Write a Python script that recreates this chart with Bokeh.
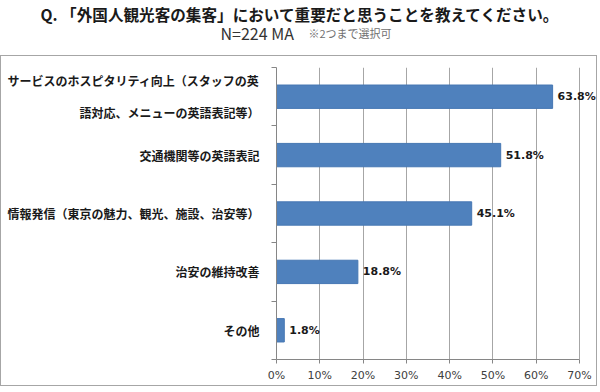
from bokeh.plotting import figure
from bokeh.layouts import column
from bokeh.models import Range1d, FixedTicker, LabelSet, ColumnDataSource, PrintfTickFormatter
from bokeh.core.properties import value
from bokeh.embed import file_html
from bokeh.resources import INLINE

title_text = "Q. 「外国人観光客の集客」において重要だと思うことを教えてください。"
subtitle_main = "N=224 MA"
subtitle_note = "※2つまで選択可"
categories = [
    "サービスのホスピタリティ向上（スタッフの英\n語対応、メニューの英語表記等）",
    "交通機関等の英語表記",
    "情報発信（東京の魅力、観光、施設、治安等）",
    "治安の維持改善",
    "その他",
]
values = [63.8, 51.8, 45.1, 18.8, 1.8]
x_ticks = [0, 10, 20, 30, 40, 50, 60, 70]

JP = "Noto Sans CJK JP"

# ---------- header (title + subtitle) ----------
hdr = figure(width=600, height=55, x_range=Range1d(0, 600), y_range=Range1d(55, 0),
             output_backend="svg", toolbar_location=None,
             x_axis_location=None, y_axis_location=None, min_border=0)
hdr.frame_align = False
hdr.grid.visible = False
hdr.outline_line_color = None
hdr.text(x=[40], y=[13], text=[title_text], text_align="left", text_baseline="middle",
         text_font=value(JP), text_font_style="bold", text_font_size="15.6px", text_color="#1a1a1a")
hdr.text(x=[220], y=[32], text=[subtitle_main], text_align="left", text_baseline="alphabetic",
         text_font=value(JP), text_font_size="16px", text_color="#333333")
hdr.text(x=[308], y=[32], text=[subtitle_note], text_align="left", text_baseline="alphabetic",
         text_font=value(JP), text_font_size="11px", text_color="#707070")

# ---------- chart ----------
n = len(categories)
ypos = [i + 0.5 for i in range(n)]
src = ColumnDataSource(dict(y=ypos, v=values, label=[f"{v:.1f}%" for v in values]))

p = figure(width=597, height=331, x_range=Range1d(0, 74.4), y_range=Range1d(n, 0),
           output_backend="svg", toolbar_location=None,
           min_border_left=275, min_border_right=0, min_border_top=11, min_border_bottom=28)
p.frame_align = False
p.styles = {"border": "1px solid #a6a6a6"}
p.outline_line_color = None

p.hbar(y="y", right="v", left=0, height=0.4, source=src,
       fill_color="#4F81BD", line_color="#4677b3", line_width=1)

p.xgrid.ticker = FixedTicker(ticks=x_ticks)
p.xgrid.grid_line_color = "#a6a6a6"
p.ygrid.visible = False

xa = p.xaxis[0]
xa.ticker = FixedTicker(ticks=x_ticks)
xa.bounds = (0, 70)
xa.formatter = PrintfTickFormatter(format="%d%%")
xa.major_label_text_font = "DejaVu Sans"
xa.major_label_text_font_size = "11px"
xa.major_label_text_color = "#404040"
xa.axis_line_color = "#868686"
xa.major_tick_line_color = "#868686"
xa.major_tick_out = 4
xa.major_tick_in = 0
xa.minor_tick_line_color = None
xa.major_label_standoff = 5

ya = p.yaxis[0]
ya.ticker = FixedTicker(ticks=ypos, minor_ticks=list(range(n + 1)))
ya.major_label_overrides = {y: c for y, c in zip(ypos, categories)}
ya.major_tick_line_color = None
ya.major_tick_out = 0
ya.major_tick_in = 0
ya.minor_tick_line_color = "#868686"
ya.minor_tick_out = 5
ya.minor_tick_in = 0
ya.axis_line_color = "#868686"
ya.major_label_text_font = JP
ya.major_label_text_font_style = "bold"
ya.major_label_text_font_size = "12px"
ya.major_label_text_line_height = 1.9
ya.major_label_text_color = "#1a1a1a"
ya.major_label_standoff = 12

p.add_layout(LabelSet(x="v", y="y", text="label", source=src, x_offset=5,
                      text_baseline="middle", text_font=value("DejaVu Sans"),
                      text_font_style="bold", text_font_size="11px", text_color="#1a1a1a"))

layout = column(hdr, p, spacing=0)
open("out.html", "w").write(file_html(layout, INLINE))
